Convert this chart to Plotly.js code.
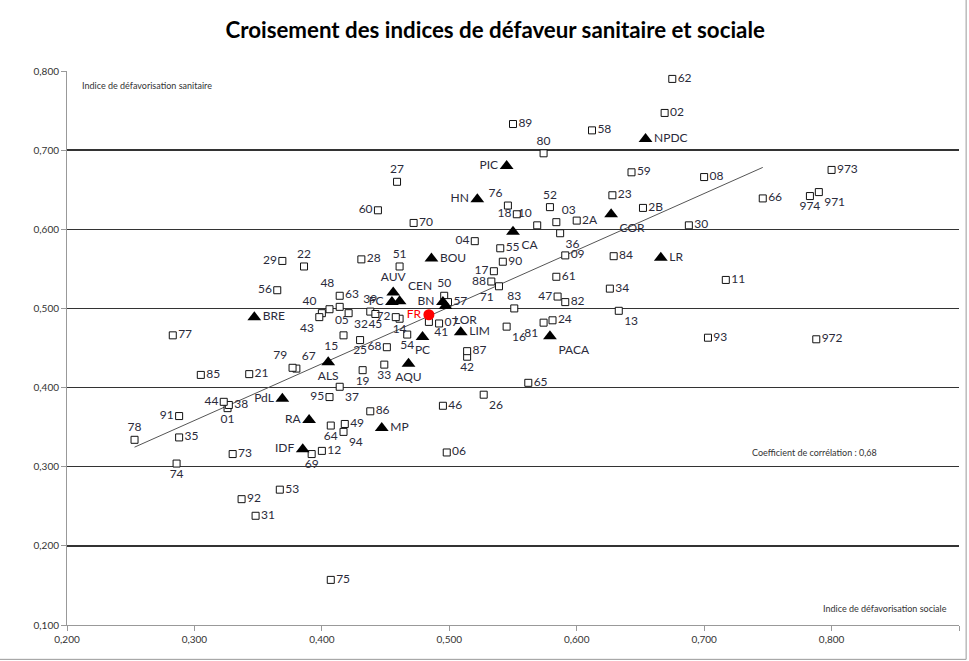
<!DOCTYPE html>
<html><head><meta charset="utf-8">
<script src="https://cdn.plot.ly/plotly-3.0.1.min.js"></script>
<style>html,body{margin:0;padding:0;background:#fff}#c{width:969px;height:661px}</style>
</head><body><div id="c"></div>
<script>
// Departments
const deptCodes = ['01','02','03','04','05','06','07','08','09','10','11','12','13','14','15','16','17','18','19','21','22','23','24','25','26','27','28','29','2A','2B','30','31','32','33','34','35','36','37','38','39','40','41','42','43','44','45','46','47','48','49','50','51','52','53','54','55','56','57','58','59','60','61','62','63','64','65','66','67','68','69','70','71','72','73','74','75','76','77','78','79','80','81','82','83','84','85','86','87','88','89','90','91','92','93','94','95','971','972','973','974'];
const deptSocial = [0.326,0.669,0.584,0.520,0.406,0.498,0.492,0.700,0.591,0.569,0.717,0.400,0.633,0.461,0.417,0.545,0.535,0.553,0.432,0.343,0.386,0.628,0.581,0.430,0.527,0.459,0.431,0.369,0.600,0.652,0.688,0.348,0.421,0.449,0.626,0.288,0.587,0.414,0.327,0.438,0.400,0.484,0.514,0.398,0.323,0.442,0.495,0.585,0.414,0.418,0.496,0.461,0.579,0.367,0.467,0.540,0.365,0.499,0.612,0.643,0.444,0.584,0.675,0.414,0.407,0.562,0.746,0.380,0.451,0.392,0.472,0.539,0.458,0.330,0.286,0.407,0.546,0.283,0.253,0.377,0.574,0.574,0.591,0.551,0.629,0.305,0.438,0.514,0.533,0.550,0.542,0.288,0.337,0.703,0.417,0.406,0.790,0.788,0.800,0.783];
const deptSanitaire = [0.374,0.747,0.609,0.585,0.499,0.318,0.481,0.666,0.567,0.605,0.536,0.320,0.497,0.487,0.466,0.477,0.547,0.619,0.422,0.417,0.553,0.643,0.485,0.460,0.391,0.660,0.562,0.560,0.611,0.627,0.605,0.238,0.494,0.429,0.525,0.337,0.595,0.401,0.378,0.496,0.494,0.483,0.439,0.489,0.382,0.493,0.377,0.515,0.516,0.354,0.516,0.553,0.628,0.271,0.467,0.576,0.523,0.508,0.725,0.672,0.624,0.540,0.790,0.502,0.352,0.406,0.639,0.424,0.451,0.316,0.608,0.528,0.489,0.316,0.304,0.157,0.630,0.466,0.334,0.425,0.696,0.482,0.508,0.500,0.566,0.416,0.370,0.446,0.534,0.733,0.559,0.364,0.259,0.463,0.344,0.388,0.647,0.461,0.675,0.642];

// Regions
const regionCodes = ['NPDC','PIC','HN','CA','COR','LR','BOU','AUV','CEN','FC','BN','LOR','LIM','PC','PACA','ALS','AQU','BRE','PdL','RA','MP','IDF'];
const regionSocial = [0.654,0.545,0.522,0.550,0.627,0.666,0.486,0.456,0.461,0.455,0.495,0.497,0.509,0.479,0.579,0.405,0.468,0.347,0.369,0.390,0.447,0.385];
const regionSanitaire = [0.714,0.680,0.638,0.597,0.619,0.564,0.563,0.520,0.509,0.508,0.508,0.503,0.470,0.464,0.465,0.432,0.430,0.489,0.386,0.359,0.349,0.322];

// France
const franceLabel = ['FR'];
const franceSocial = [0.484];
const franceSanitaire = [0.492];

// Trend line (metropolitan departments)
const trendSlope = 0.717;
const trendIntercept = 0.1433;

const xTickVals = [0.2,0.3,0.4,0.5,0.6,0.7,0.8,0.9];
const yTickVals = [0.1,0.2,0.3,0.4,0.5,0.6,0.7,0.8];

// label placement (style)
const deptLabelPos = {
 '01':'bottom center','02':'middle right','03':'top right','04':'middle left','05':'bottom right','06':'middle right','07':'middle right','08':'middle right','09':'middle right','10':'top left','11':'middle right','12':'middle right','13':'bottom right','14':'bottom center','15':'bottom left','16':'bottom right','17':'middle left','18':'middle left','19':'bottom center','21':'middle right','22':'top center','23':'middle right','24':'middle right','25':'bottom center','26':'bottom right','27':'top center','28':'middle right','29':'middle left','2A':'middle right','2B':'middle right','30':'middle right','31':'middle right','32':'bottom right','33':'bottom center','34':'middle right','35':'middle right','36':'bottom right','37':'bottom right','38':'middle right','39':'top center','40':'top left','41':'bottom right','42':'bottom center','43':'bottom left','44':'middle left','45':'bottom center','46':'middle right','47':'middle left','48':'top left','49':'middle right','50':'top center','51':'top center','52':'top center','53':'middle right','54':'bottom center','55':'middle right','56':'middle left','57':'middle right','58':'middle right','59':'middle right','60':'middle left','61':'middle right','62':'middle right','63':'top right','64':'bottom center','65':'middle right','66':'middle right','67':'top right','68':'middle left','69':'bottom center','70':'middle right','71':'bottom left','72':'middle left','73':'middle right','74':'bottom center','75':'middle right','76':'top left','77':'middle right','78':'top center','79':'top left','80':'top center','81':'bottom left','82':'middle right','83':'top center','84':'middle right','85':'middle right','86':'middle right','87':'middle right','88':'middle left','89':'middle right','90':'middle right','91':'middle left','92':'middle right','93':'middle right','94':'bottom right','95':'middle left','971':'bottom right','972':'middle right','973':'middle right','974':'bottom center'
};
const regionLabelPos = {
 'NPDC':'middle right','PIC':'middle left','HN':'middle left','CA':'bottom right','COR':'bottom right','LR':'middle right','BOU':'middle right','AUV':'top center','CEN':'top right','FC':'middle left','BN':'middle left','LOR':'bottom right','LIM':'middle right','PC':'bottom center','PACA':'bottom right','ALS':'bottom center','AQU':'bottom center','BRE':'middle right','PdL':'middle left','RA':'middle left','MP':'middle right','IDF':'middle left'
};

const labelFont = {family:'Lato, "Open Sans", sans-serif', size:12, color:'#2a2a3a'};

const metroX = deptSocial.filter((v,i)=>!deptCodes[i].startsWith('97'));
const tx0 = Math.min(...metroX), tx1 = Math.max(...metroX);

const traces = [
 {type:'scatter', mode:'lines', x:[tx0,tx1], y:[trendIntercept+trendSlope*tx0, trendIntercept+trendSlope*tx1],
  line:{color:'#555', width:1}, hoverinfo:'skip', showlegend:false},
 {type:'scatter', mode:'markers+text', x:deptSocial, y:deptSanitaire, text:deptCodes,
  textposition: deptCodes.map(c=>deptLabelPos[c]||'middle right'), textfont:labelFont,
  marker:{symbol:'square', size:7, color:'#fff', line:{color:'#111', width:1}}, cliponaxis:false, showlegend:false},
 {type:'scatter', mode:'markers+text', x:regionSocial, y:regionSanitaire, text:regionCodes,
  textposition: regionCodes.map(c=>regionLabelPos[c]||'middle right'), textfont:labelFont,
  marker:{symbol:'triangle-up', size:12, color:'#000'}, cliponaxis:false, showlegend:false},
 {type:'scatter', mode:'markers+text', x:franceSocial, y:franceSanitaire, text:franceLabel,
  textposition:'middle left', textfont:{family:labelFont.family, size:12, color:'#ff0000'},
  marker:{symbol:'circle', size:11, color:'#ff0000'}, cliponaxis:false, showlegend:false}
];

const axisFont = {family:'Lato, "Open Sans", sans-serif', size:10, color:'#333'};
const layout = {
 width:969, height:661,
 margin:{l:67, r:10, t:71, b:36},
 paper_bgcolor:'#fff', plot_bgcolor:'#fff',
 separators:', ',
 title:{text:'Croisement des indices de défaveur sanitaire et sociale', font:{family:'Lato, "Open Sans", sans-serif', size:22.3, color:'#000', weight:700},
   x:0.511, xanchor:'center', y:0.955, yref:'container', yanchor:'middle'},
 xaxis:{range:[0.2,0.9], tickvals:xTickVals, tickformat:'.3f', showgrid:false, zeroline:false,
   showline:true, linecolor:'#999', linewidth:1, ticks:'outside', ticklen:5, tickcolor:'#999', tickfont:axisFont},
 yaxis:{range:[0.1,0.8], tickvals:yTickVals, tickformat:'.3f', showgrid:true, gridcolor:'#333', gridwidth:1.3, zeroline:false,
   showline:true, linecolor:'#999', linewidth:1, ticks:'outside', ticklen:5, tickcolor:'#999', tickfont:axisFont},
 annotations:[
  {xref:'paper', yref:'paper', x:0.0146, y:0.973, xanchor:'left', yanchor:'middle', showarrow:false,
   text:'Indice de défavorisation sanitaire', font:{family:'Lato, sans-serif', size:9, color:'#333'}},
  {xref:'paper', yref:'paper', x:0.989, y:0.029, xanchor:'right', yanchor:'middle', showarrow:false,
   text:'Indice de défavorisation sociale', font:{family:'Lato, sans-serif', size:9, color:'#333'}},
  {xref:'paper', yref:'paper', x:0.7657, y:0.311, xanchor:'left', yanchor:'middle', showarrow:false,
   text:'Coefficient de corrélation : 0,68', font:{family:'Lato, sans-serif', size:9, color:'#333'}}
 ],
 shapes:[
  {type:'line', xref:'paper', yref:'paper', x0:-0.08, x1:1.008, y0:-0.062, y1:-0.062, line:{color:'#999', width:1}},
  {type:'line', xref:'paper', yref:'paper', x0:1.008, x1:1.008, y0:-0.062, y1:1.13, line:{color:'#999', width:1}}
 ]
};
Plotly.newPlot('c', traces, layout, {displayModeBar:false, staticPlot:true});
</script>
</body></html>
